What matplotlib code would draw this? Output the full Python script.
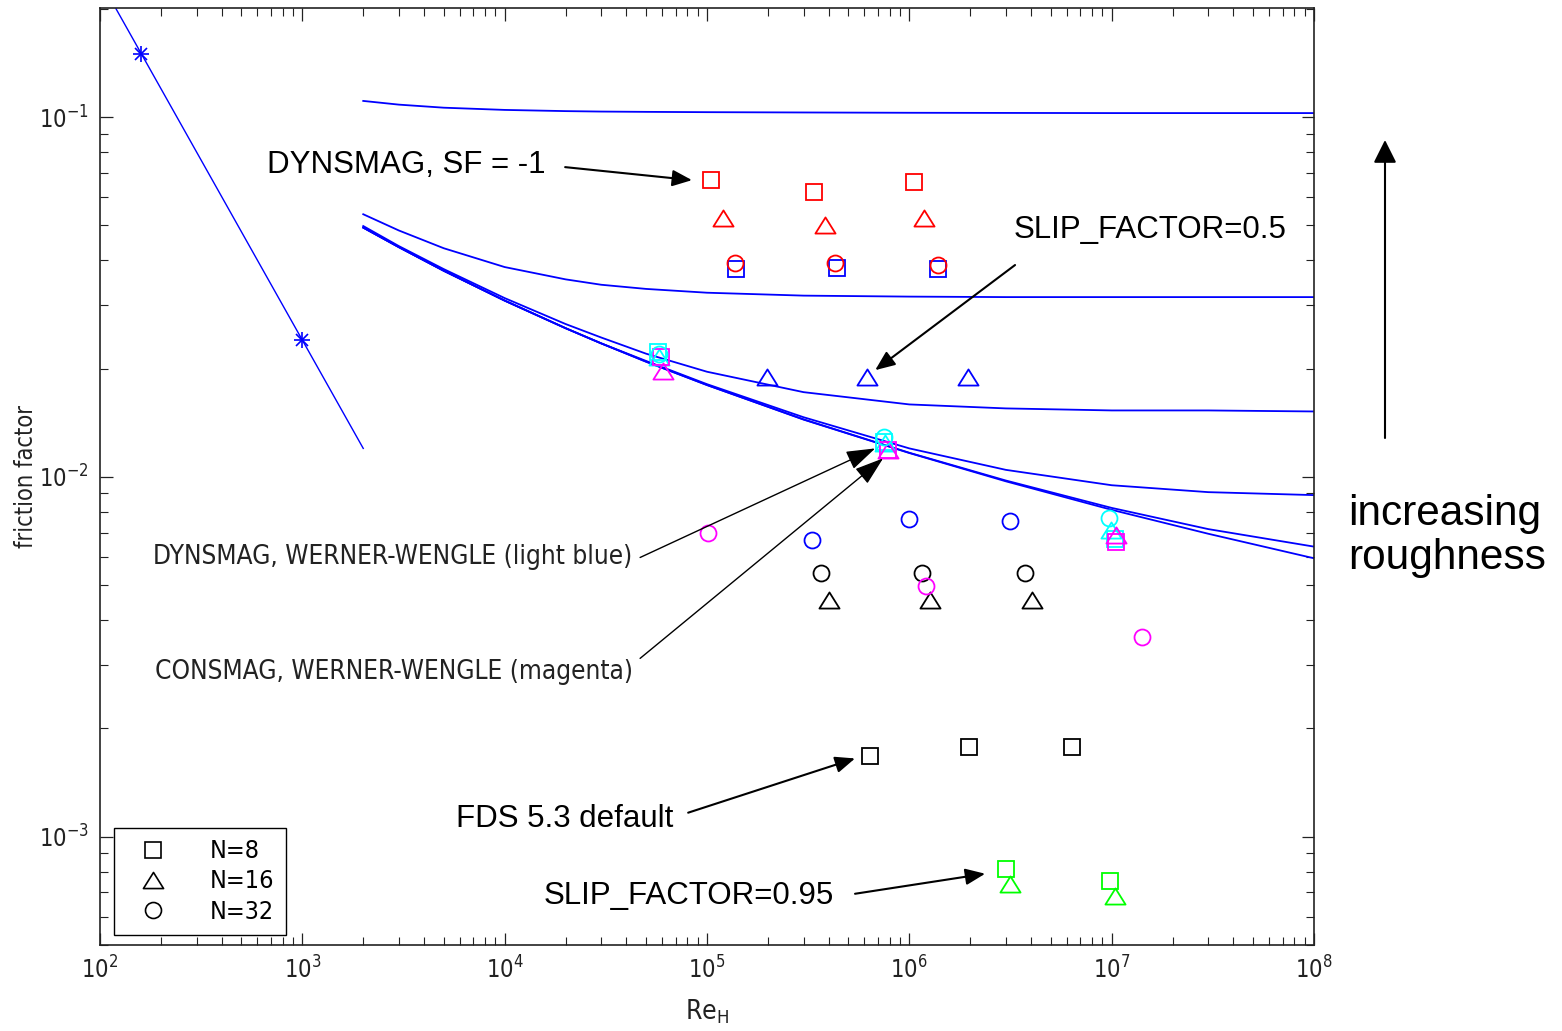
import numpy as np
import matplotlib
matplotlib.use("Agg")
import matplotlib.pyplot as plt
from matplotlib.lines import Line2D
from matplotlib.path import Path
from matplotlib import font_manager as fm
from matplotlib.ticker import FixedLocator, NullFormatter, LogFormatterSciNotation

# ---------------- data ----------------
re_lam = [120, 160, 1000, 2000]
f_lam = [0.200, 0.150, 0.024, 0.012]
re_lam_pts = [160, 1000]
f_lam_pts = [0.150, 0.024]

re_turb = [2e3, 3e3, 5e3, 1e4, 2e4, 3e4, 5e4, 1e5, 3e5, 1e6, 3e6, 1e7, 3e7, 1e8]
f_curve_a = [0.1109, 0.1083, 0.1062, 0.1047, 0.1039, 0.1036, 0.1034, 0.1032, 0.1030, 0.1028, 0.1027, 0.1026, 0.1026, 0.1026]
f_curve_b = [0.0537, 0.0484, 0.0432, 0.0383, 0.0354, 0.0342, 0.0333, 0.0325, 0.0319, 0.0317, 0.0316, 0.0316, 0.0316, 0.0316]
f_curve_c = [0.0498, 0.0438, 0.0378, 0.0314, 0.0266, 0.0244, 0.0220, 0.0196, 0.0172, 0.0159, 0.0155, 0.0153, 0.0153, 0.0152]
f_curve_d = [0.0493, 0.0435, 0.0374, 0.0309, 0.0259, 0.0235, 0.0210, 0.0181, 0.01465, 0.0120, 0.01046, 0.00948, 0.00907, 0.0089]
f_curve_e = [0.0493, 0.0435, 0.0374, 0.0309, 0.0259, 0.0235, 0.0209, 0.0180, 0.01445, 0.01167, 0.00977, 0.0082, 0.00716, 0.0064]
f_smooth = [0.0493, 0.0435, 0.0374, 0.0309, 0.0259, 0.0235, 0.0209, 0.0180, 0.01443, 0.01165, 0.00972, 0.0081, 0.00695, 0.00594]

# DYNSMAG, SF=-1 (red)
red_sq_re = [1.05e5, 3.38e5, 1.06e6];   red_sq_f = [0.0668, 0.0621, 0.0659]
red_tri_re = [1.20e5, 3.85e5, 1.18e6];  red_tri_f = [0.0523, 0.0501, 0.0523]
red_ci_re = [1.37e5, 4.28e5, 1.38e6];   red_ci_f = [0.0392, 0.0392, 0.0388]
# SLIP_FACTOR=0.5 (blue)
blue_sq_re = [1.39e5, 4.38e5, 1.38e6];  blue_sq_f = [0.0379, 0.0381, 0.0378]
blue_tri_re = [1.97e5, 6.18e5, 1.95e6]; blue_tri_f = [0.0190, 0.0190, 0.0190]
blue_ci_re = [3.31e5, 9.94e5, 3.13e6];  blue_ci_f = [0.00666, 0.00762, 0.00752]
# FDS 5.3 default (black)
blk_sq_re = [6.4e5, 1.98e6, 6.38e6];    blk_sq_f = [0.00168, 0.00178, 0.00178]
blk_tri_re = [4.03e5, 1.26e6, 4.05e6];  blk_tri_f = [0.00455, 0.00455, 0.00455]
blk_ci_re = [3.68e5, 1.16e6, 3.72e6];   blk_ci_f = [0.0054, 0.0054, 0.0054]
# SLIP_FACTOR=0.95 (green)
grn_sq_re = [3.0e6, 9.84e6];            grn_sq_f = [0.000813, 0.000754]
grn_tri_re = [3.14e6, 1.04e7];          grn_tri_f = [0.000739, 0.000682]
# DYNSMAG, WERNER-WENGLE (cyan)
cyn_sq_re = [5.73e4, 7.51e5, 1.04e7];   cyn_sq_f = [0.0222, 0.0125, 0.0067]
cyn_tri_re = [5.8e4, 7.6e5, 9.94e6];    cyn_tri_f = [0.0216, 0.0124, 0.0071]
cyn_ci_re = [5.8e4, 7.51e5, 9.72e6];    cyn_ci_f = [0.0219, 0.0129, 0.0077]
# CONSMAG, WERNER-WENGLE (magenta)
mag_sq_re = [5.9e4, 7.85e5, 1.05e7];    mag_sq_f = [0.0215, 0.01185, 0.0066]
mag_tri_re = [6.07e4, 7.85e5, 1.05e7];  mag_tri_f = [0.0197, 0.0119, 0.0069]
mag_ci_re = [1.01e5, 1.21e6, 1.42e7];   mag_ci_f = [0.00697, 0.00496, 0.00358]

legend_labels = ["N=8", "N=16", "N=32"]
x_major = [1e2, 1e3, 1e4, 1e5, 1e6, 1e7, 1e8]
y_major = [1e-3, 1e-2, 1e-1]

# ---------------- fonts ----------------
names = {f.name for f in fm.fontManager.ttflist}
if "Liberation Sans Narrow" in names:
    NARROW = "Liberation Sans Narrow"
    STRETCH = "normal"
else:
    NARROW = "DejaVu Sans"
    STRETCH = "condensed"
BIG = "Liberation Sans" if "Liberation Sans" in names else "DejaVu Sans"

plt.rcParams["font.family"] = [NARROW, "DejaVu Sans"]
plt.rcParams["font.stretch"] = STRETCH
plt.rcParams["axes.unicode_minus"] = False
plt.rcParams["mathtext.fontset"] = "custom"
plt.rcParams["mathtext.rm"] = NARROW
plt.rcParams["mathtext.it"] = NARROW
plt.rcParams["mathtext.sf"] = NARROW
plt.rcParams["mathtext.bf"] = NARROW

# ---------------- figure ----------------
W, H = 1562, 1031
fig = plt.figure(figsize=(W / 100, H / 100), dpi=100)
ax = fig.add_axes([100 / W, 1 - 945 / H, 1214 / W, 937 / H])
ax.set_xscale("log")
ax.set_yscale("log")

BLUE = "#0000ff"
ax.plot(re_lam, f_lam, color=BLUE, lw=1.0)
ax.plot(re_lam_pts, f_lam_pts, ls="none", marker="+", ms=12, mew=1.2, color=BLUE)
ax.plot(re_lam_pts, f_lam_pts, ls="none", marker="x", ms=9, mew=1.2, color=BLUE)
for fc in (f_curve_a, f_curve_b, f_curve_c, f_curve_d, f_curve_e, f_smooth):
    ax.plot(re_turb, fc, color=BLUE, lw=1.3)

TRI = Path([(-10, -8), (10, -8), (0, 8), (-10, -8)],
           [Path.MOVETO, Path.LINETO, Path.LINETO, Path.CLOSEPOLY])
SQ_MS, TRI_MS, CI_MS = 11.5, 14.5, 11.5


def pts(re, f, kind, c):
    m = {"s": "s", "o": "o", "t": TRI}[kind]
    ms = {"s": SQ_MS, "o": CI_MS, "t": TRI_MS}[kind]
    ax.plot(re, f, ls="none", marker=m, ms=ms, mfc="none", mec=c, mew=1.3)


pts(red_sq_re, red_sq_f, "s", "#ff0000")
pts(red_tri_re, red_tri_f, "t", "#ff0000")
pts(blue_sq_re, blue_sq_f, "s", BLUE)
pts(red_ci_re, red_ci_f, "o", "#ff0000")
pts(blue_tri_re, blue_tri_f, "t", BLUE)
pts(blue_ci_re, blue_ci_f, "o", BLUE)
pts(blk_sq_re, blk_sq_f, "s", "black")
pts(blk_tri_re, blk_tri_f, "t", "black")
pts(blk_ci_re, blk_ci_f, "o", "black")
pts(grn_sq_re, grn_sq_f, "s", "#00ff00")
pts(grn_tri_re, grn_tri_f, "t", "#00ff00")
pts(cyn_sq_re, cyn_sq_f, "s", "#00ffff")
pts(cyn_tri_re, cyn_tri_f, "t", "#00ffff")
pts(mag_sq_re, mag_sq_f, "s", "#ff00ff")
pts(mag_tri_re, mag_tri_f, "t", "#ff00ff")
pts(cyn_ci_re, cyn_ci_f, "o", "#00ffff")
pts(mag_ci_re, mag_ci_f, "o", "#ff00ff")

ax.set_xlim(1e2, 1e8)
ax.set_ylim(5e-4, 0.201)

# ---------------- axes styling ----------------
SPC = "#222222"
for s in ax.spines.values():
    s.set_color(SPC)
    s.set_linewidth(1.2)
x_minor = [m * 10.0 ** e for e in range(2, 8) for m in range(2, 10)]
y_minor = [m * 10.0 ** e for e in range(-4, 0) for m in range(2, 10)
           if 5e-4 <= m * 10.0 ** e <= 0.201]
ax.xaxis.set_major_locator(FixedLocator(x_major))
ax.yaxis.set_major_locator(FixedLocator(y_major))
ax.xaxis.set_minor_locator(FixedLocator(x_minor))
ax.yaxis.set_minor_locator(FixedLocator(y_minor))
ax.xaxis.set_major_formatter(LogFormatterSciNotation())
ax.yaxis.set_major_formatter(LogFormatterSciNotation())
ax.xaxis.set_minor_formatter(NullFormatter())
ax.yaxis.set_minor_formatter(NullFormatter())
ax.tick_params(which="both", direction="in", top=True, right=True, colors=SPC,
               labelcolor="#222222")
ax.tick_params(which="major", length=9, width=0.9, labelsize=17, pad=8)
ax.tick_params(which="minor", length=5.5, width=0.8)

ax.set_xlabel(r"$\mathrm{Re}_\mathrm{H}$", fontsize=19, labelpad=10, color="#222222")
ax.set_ylabel("friction factor", fontsize=17, color="#222222")
ax.yaxis.set_label_coords(-62 / 1214, 0.5)

# ---------------- legend ----------------
handles = [
    Line2D([], [], ls="none", marker="s", ms=SQ_MS, mfc="none", mec="black", mew=1.2),
    Line2D([], [], ls="none", marker=TRI, ms=TRI_MS, mfc="none", mec="black", mew=1.2),
    Line2D([], [], ls="none", marker="o", ms=CI_MS, mfc="none", mec="black", mew=1.2),
]
leg = ax.legend(handles, legend_labels, loc="lower left",
                bbox_to_anchor=(14 / 1214, 10 / 937), borderaxespad=0,
                frameon=True, fancybox=False, edgecolor="black", framealpha=1,
                prop={"family": NARROW, "size": 18, "stretch": STRETCH},
                handlelength=2.2, handletextpad=1.2, borderpad=0.45,
                labelspacing=0.25)
leg.get_frame().set_linewidth(1.0)

# ---------------- annotations ----------------
big = dict(family=BIG, fontsize=22.5, color="black", va="center", ha="center",
           fontstretch="normal")
small = dict(family=NARROW, fontsize=18.8, color="#222222", va="center", ha="center")

ax.text(3256, 0.0735, "DYNSMAG, SF = -1", **big)
ax.text(1.549e7, 0.0485, "SLIP_FACTOR=0.5", **big)
ax.text(1.99e4, 0.001122, "FDS 5.3 default", **big)
ax.text(8.16e4, 0.000685, "SLIP_FACTOR=0.95", **big)
ax.text(2806, 0.00597, "DYNSMAG, WERNER-WENGLE (light blue)", **small)
ax.text(2837, 0.002876, "CONSMAG, WERNER-WENGLE (magenta)", **small)

bigarrow = dict(arrowstyle="-|>,head_length=0.6,head_width=0.25", color="black",
                lw=1.5, mutation_scale=20, shrinkA=0, shrinkB=0)
thinarrow = dict(arrowstyle="-|>,head_length=0.9,head_width=0.3", color="black",
                 lw=1.0, mutation_scale=20, shrinkA=0, shrinkB=0)

ax.annotate("", xy=(8.43e4, 0.0668), xytext=(1.99e4, 0.0726), arrowprops=bigarrow)
ax.annotate("", xy=(6.78e5, 0.0198), xytext=(3.33e6, 0.0388), arrowprops=bigarrow)
ax.annotate("", xy=(6.78e5, 0.0120), xytext=(4.67e4, 0.00597), arrowprops=thinarrow)
ax.annotate("", xy=(7.42e5, 0.01126), xytext=(4.67e4, 0.00313), arrowprops=thinarrow)
ax.annotate("", xy=(5.39e5, 0.00165), xytext=(8.07e4, 0.001166), arrowprops=bigarrow)
ax.annotate("", xy=(2.37e6, 0.000789), xytext=(5.39e5, 0.000694), arrowprops=bigarrow)

fig.add_artist(matplotlib.patches.FancyArrowPatch(
    (1385 / W, 1 - 438 / H), (1385 / W, 1 - 140 / H), transform=fig.transFigure,
    arrowstyle="-|>,head_length=0.7,head_width=0.35", mutation_scale=20,
    color="black", lw=1.5, shrinkA=0, shrinkB=0))
fig.text(1348 / W, 1 - 536 / H, "increasing\nroughness", family=BIG, fontsize=30.5,
         ha="left", va="center", linespacing=1.15, fontstretch="normal")

fig.savefig("out.png", dpi=100)
